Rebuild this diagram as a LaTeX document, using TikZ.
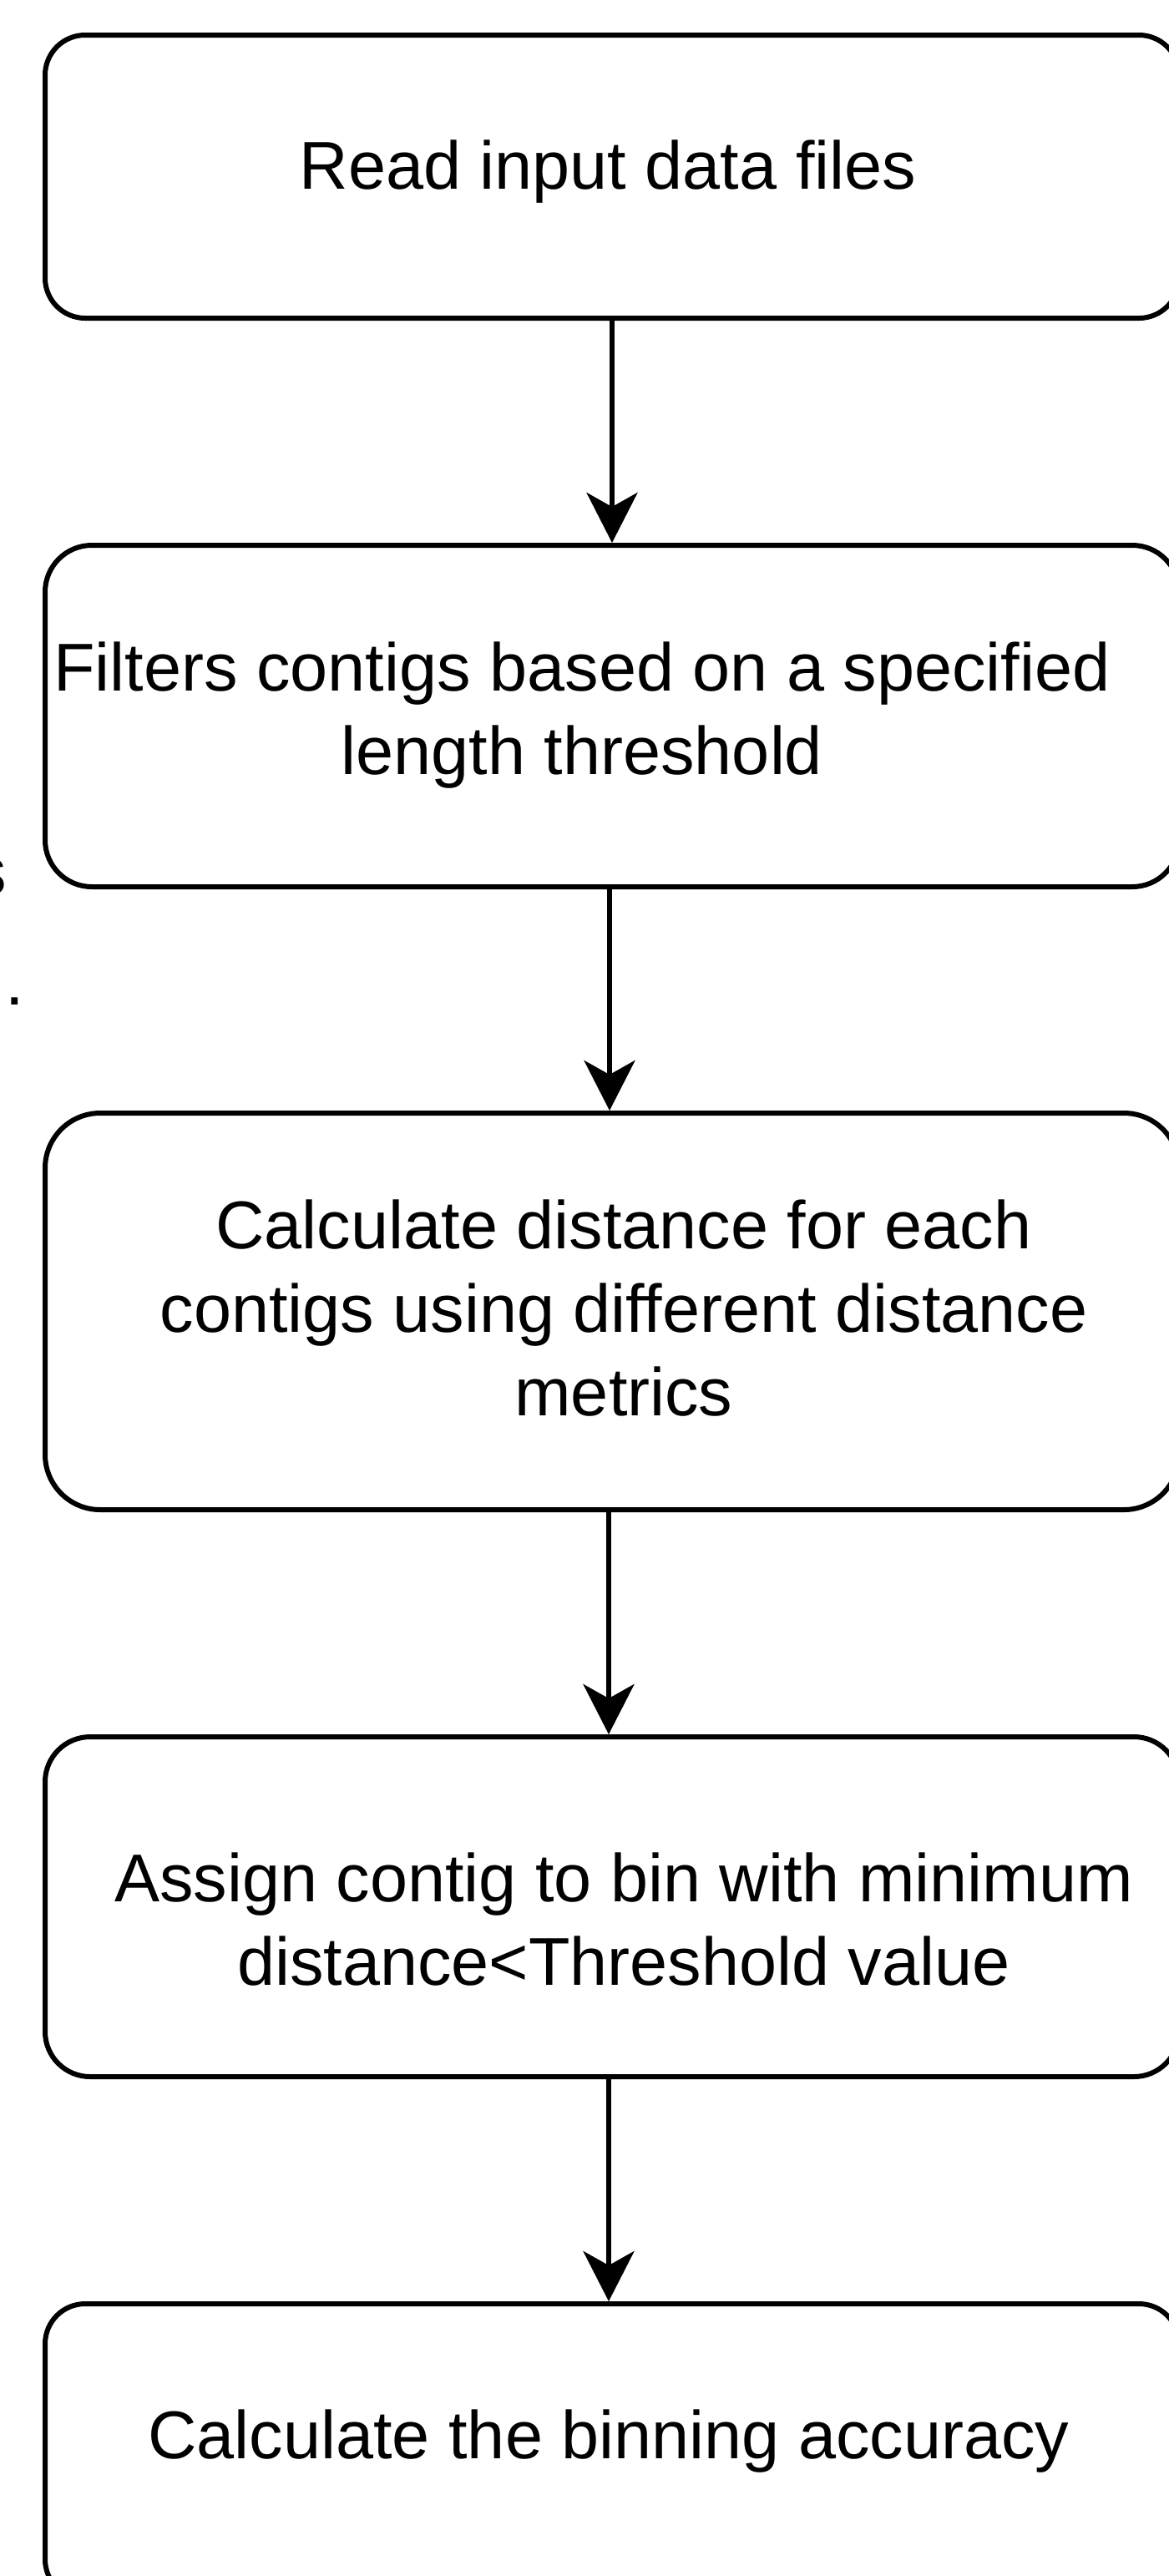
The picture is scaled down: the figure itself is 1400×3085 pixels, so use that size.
\documentclass[tikz,border=0pt]{standalone}
\usepackage{fontspec}
\setmainfont{Liberation Sans}
\usetikzlibrary{arrows.meta}

\tikzset{
  stepbox/.style={draw=black, line width=3pt, fill=white, inner sep=0pt,
    minimum width=679pt},
  steptext/.style={align=center, inner sep=0pt,
    font=\fontsize{40.5pt}{50pt}\selectfont},
  flow/.style={draw=black, line width=3pt,
    -{Stealth[length=30pt, width=30.5pt, inset=8.5pt]}},
  stray/.style={anchor=base west, inner sep=0pt,
    font=\fontsize{40.5pt}{50pt}\selectfont}
}

\begin{document}
\begin{tikzpicture}[x=0.5pt, y=-0.5pt]
  \useasboundingbox (0,0) rectangle (1400,3085);

  % process boxes (they run past the right and bottom edges)
  \node[stepbox, minimum height=169.5pt, rounded corners=24pt] (b1) at (733,211.5) {};
  \node[stepbox, minimum height=204.5pt, rounded corners=28pt] (b2) at (733,857.5) {};
  \node[stepbox, minimum height=237.5pt, rounded corners=33pt] (b3) at (733,1570.5) {};
  \node[stepbox, minimum height=203.5pt, rounded corners=27pt] (b4) at (733,2283.5) {};
  \node[stepbox, minimum height=177pt, rounded corners=24pt] (b5) at (733,2936) {};

  % step labels
  \node[steptext] (t1) at (728,206) {Read input data files};
  \node[steptext] (t2) at (697,857) {Filters contigs based on a specified\\length threshold};
  \node[steptext] (t3) at (747,1567) {Calculate distance for each\\contigs using different distance\\metrics};
  \node[steptext] (t4) at (747,2299) {Assign contig to bin with minimum\\distance<Threshold value};
  \node[steptext] (t5) at (729,2924) {Calculate the binning accuracy};

  % connectors
  \draw[flow] (b1.south) -- (b2.north);
  \draw[flow] ([xshift=-1.5pt]b2.south) -- ([xshift=-1.5pt]b3.north);
  \draw[flow] ([xshift=-2pt]b3.south) -- ([xshift=-2pt]b4.north);
  \draw[flow] ([xshift=-2pt]b4.south) -- ([xshift=-2pt]b5.north);

  % text cut off at the left edge
  \node[stray] (s1) at (-17,535) {.};
  \node[stray] (s2) at (-32.5,1071) {s};
  \node[stray] (s3) at (6,1203) {.};
\end{tikzpicture}
\end{document}
